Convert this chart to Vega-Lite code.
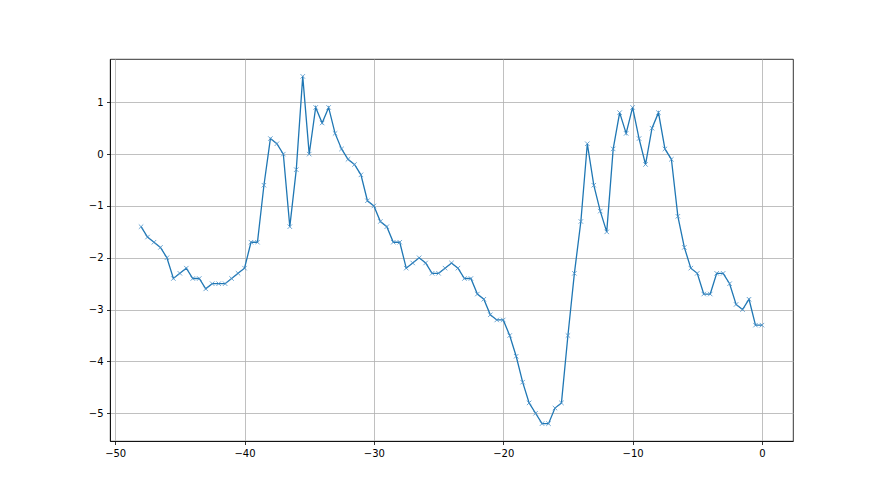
{
  "$schema": "https://vega.github.io/schema/vega-lite/v6.json",
  "autosize": "none",
  "width": 683,
  "height": 382,
  "padding": {"left": 110, "top": 59, "right": 87, "bottom": 54},
  "background": "white",
  "config": {
    "view": {"stroke": "black", "strokeWidth": 0.8},
    "axis": {
      "labelFont": "DejaVu Sans",
      "labelFontSize": 10,
      "labelColor": "black",
      "domainColor": "black",
      "domainWidth": 0.8,
      "tickColor": "black",
      "tickWidth": 0.8,
      "tickSize": 3.5,
      "labelPadding": 3.5,
      "gridColor": "#b0b0b0",
      "gridWidth": 0.8,
      "title": null
    }
  },
  "data": {
    "values": [
      {"x": -48, "y": -1.4}, {"x": -47.5, "y": -1.6}, {"x": -47, "y": -1.7}, {"x": -46.5, "y": -1.8},
      {"x": -46, "y": -2.0}, {"x": -45.5, "y": -2.4}, {"x": -45, "y": -2.3}, {"x": -44.5, "y": -2.2},
      {"x": -44, "y": -2.4}, {"x": -43.5, "y": -2.4}, {"x": -43, "y": -2.6}, {"x": -42.5, "y": -2.5},
      {"x": -42, "y": -2.5}, {"x": -41.5, "y": -2.5}, {"x": -41, "y": -2.4}, {"x": -40.5, "y": -2.3},
      {"x": -40, "y": -2.2}, {"x": -39.5, "y": -1.7}, {"x": -39, "y": -1.7}, {"x": -38.5, "y": -0.6},
      {"x": -38, "y": 0.3}, {"x": -37.5, "y": 0.2}, {"x": -37, "y": 0.0}, {"x": -36.5, "y": -1.4},
      {"x": -36, "y": -0.3}, {"x": -35.5, "y": 1.5}, {"x": -35, "y": 0.0}, {"x": -34.5, "y": 0.9},
      {"x": -34, "y": 0.6}, {"x": -33.5, "y": 0.9}, {"x": -33, "y": 0.4}, {"x": -32.5, "y": 0.1},
      {"x": -32, "y": -0.1}, {"x": -31.5, "y": -0.2}, {"x": -31, "y": -0.4}, {"x": -30.5, "y": -0.9},
      {"x": -30, "y": -1.0}, {"x": -29.5, "y": -1.3}, {"x": -29, "y": -1.4}, {"x": -28.5, "y": -1.7},
      {"x": -28, "y": -1.7}, {"x": -27.5, "y": -2.2}, {"x": -27, "y": -2.1}, {"x": -26.5, "y": -2.0},
      {"x": -26, "y": -2.1}, {"x": -25.5, "y": -2.3}, {"x": -25, "y": -2.3}, {"x": -24.5, "y": -2.2},
      {"x": -24, "y": -2.1}, {"x": -23.5, "y": -2.2}, {"x": -23, "y": -2.4}, {"x": -22.5, "y": -2.4},
      {"x": -22, "y": -2.7}, {"x": -21.5, "y": -2.8}, {"x": -21, "y": -3.1}, {"x": -20.5, "y": -3.2},
      {"x": -20, "y": -3.2}, {"x": -19.5, "y": -3.5}, {"x": -19, "y": -3.9}, {"x": -18.5, "y": -4.4},
      {"x": -18, "y": -4.8}, {"x": -17.5, "y": -5.0}, {"x": -17, "y": -5.2}, {"x": -16.5, "y": -5.2},
      {"x": -16, "y": -4.9}, {"x": -15.5, "y": -4.8}, {"x": -15, "y": -3.5}, {"x": -14.5, "y": -2.3},
      {"x": -14, "y": -1.3}, {"x": -13.5, "y": 0.2}, {"x": -13, "y": -0.6}, {"x": -12.5, "y": -1.1},
      {"x": -12, "y": -1.5}, {"x": -11.5, "y": 0.1}, {"x": -11, "y": 0.8}, {"x": -10.5, "y": 0.4},
      {"x": -10, "y": 0.9}, {"x": -9.5, "y": 0.3}, {"x": -9, "y": -0.2}, {"x": -8.5, "y": 0.5},
      {"x": -8, "y": 0.8}, {"x": -7.5, "y": 0.1}, {"x": -7, "y": -0.1}, {"x": -6.5, "y": -1.2},
      {"x": -6, "y": -1.8}, {"x": -5.5, "y": -2.2}, {"x": -5, "y": -2.3}, {"x": -4.5, "y": -2.7},
      {"x": -4, "y": -2.7}, {"x": -3.5, "y": -2.3}, {"x": -3, "y": -2.3}, {"x": -2.5, "y": -2.5},
      {"x": -2, "y": -2.9}, {"x": -1.5, "y": -3.0}, {"x": -1, "y": -2.8}, {"x": -0.5, "y": -3.3},
      {"x": 0, "y": -3.3}
    ]
  },
  "encoding": {
    "x": {
      "field": "x", "type": "quantitative",
      "scale": {"domain": [-50.4, 2.4], "nice": false, "zero": false},
      "axis": {"values": [-50, -40, -30, -20, -10, 0], "grid": true}
    },
    "y": {
      "field": "y", "type": "quantitative",
      "scale": {"domain": [-5.535, 1.835], "nice": false, "zero": false},
      "axis": {"values": [-5, -4, -3, -2, -1, 0, 1], "grid": true}
    }
  },
  "layer": [
    {"mark": {"type": "line", "color": "#1f77b4", "strokeWidth": 1.3}},
    {"mark": {"type": "point", "shape": "M-1,-1L1,1M-1,1L1,-1", "filled": false, "color": "#4a90c8", "size": 20, "strokeWidth": 0.8, "opacity": 1}}
  ]
}
